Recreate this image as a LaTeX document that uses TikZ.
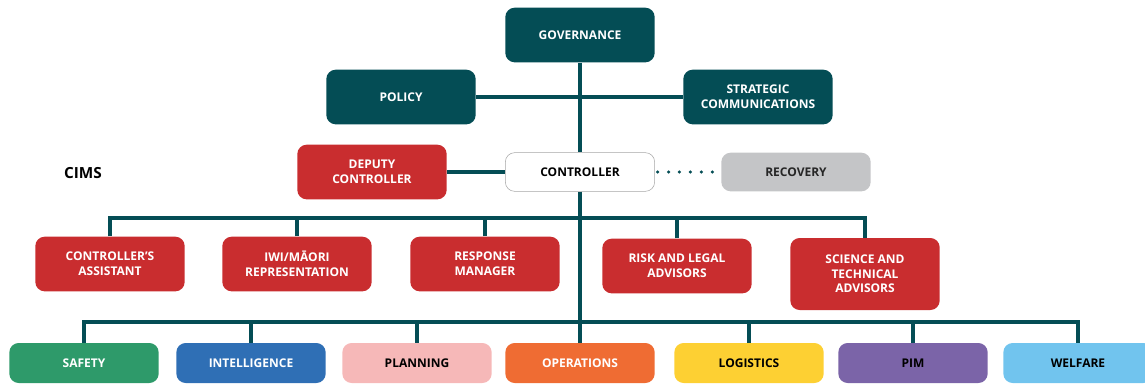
\documentclass[tikz,border=0pt]{standalone}
\usepackage{fontspec}
\setmainfont{Open Sans}
\usepackage{xcolor}
\usetikzlibrary{positioning}
\definecolor{cimsteal}{HTML}{044D55}
\definecolor{cimsred}{HTML}{C92D2F}
\definecolor{cimsgrey}{HTML}{C4C5C7}
\definecolor{safetygreen}{HTML}{2E9A6A}
\definecolor{intelblue}{HTML}{2F6FB5}
\definecolor{planpink}{HTML}{F6B8B8}
\definecolor{opsorange}{HTML}{EF6C33}
\definecolor{logyellow}{HTML}{FDD033}
\definecolor{pimpurple}{HTML}{7B64A8}
\definecolor{welfareblue}{HTML}{71C4EE}

\begin{document}
\begin{tikzpicture}[x=0.75pt, y=-0.75pt,
	every node/.style={rounded corners=7pt, inner sep=0pt, align=center, text=white,
		font=\fontsize{9}{11}\selectfont\bfseries, minimum width=112pt, minimum height=41pt},
	lead/.style={fill=cimsteal},
	unit/.style={fill=cimsred},
	func/.style={minimum height=30pt, text=black},
	link/.style={draw=cimsteal, line width=3.6pt}]
	\useasboundingbox (0,0) rectangle (1145,383);

		\node[lead] at (580,35) (gov) {GOVERNANCE};
		\node[lead] at (401,97) (policy) {POLICY};
		\node[lead] at (758,97) (strat) {STRATEGIC\\COMMUNICATIONS};

		\node[text=black, minimum width=0pt, minimum height=0pt, font=\fontsize{11.5}{13}\selectfont\bfseries] at (83,173) (cims) {CIMS};
		\node[unit] at (372,172) (deputy) {DEPUTY\\CONTROLLER};
		\node[draw=gray!70, fill=white, text=black, minimum height=29pt] at (580,172) (ctrl) {CONTROLLER};
		\node[fill=cimsgrey, text=black!85, minimum height=29pt] at (796,172) (recovery) {RECOVERY};

		\node[unit] at (110,264) (assist) {CONTROLLER'S\\ASSISTANT};
		\node[unit] at (297,264) (iwi) {IWI/MĀORI\\REPRESENTATION};
		\node[unit] at (485,264) (response) {RESPONSE\\MANAGER};
		\node[unit] at (677,266) (risk) {RISK AND LEGAL\\ADVISORS};
		\node[unit, minimum height=54pt] at (865,274) (science) {SCIENCE AND\\TECHNICAL\\ADVISORS};

		\node[func, fill=safetygreen, text=white] at (84,363) (safety) {SAFETY};
		\node[func, fill=intelblue, text=white] at (251,363) (intel) {INTELLIGENCE};
		\node[func, fill=planpink] at (417,363) (planning) {PLANNING};
		\node[func, fill=opsorange, text=white] at (580,363) (ops) {OPERATIONS};
		\node[func, fill=logyellow] at (749,363) (logistics) {LOGISTICS};
		\node[func, fill=pimpurple] at (913,363) (pim) {PIM};
		\node[func, fill=welfareblue] at (1078,363) (welfare) {WELFARE};

		\coordinate (bus1) at (580,218);
		\coordinate (bus2) at (580,322);

		\path[link] (gov) edge (ctrl);
		\path[link] (policy) edge (strat);
		\path[link] (deputy) edge (ctrl);
		\path[draw=cimsteal, line width=2.6pt, line cap=round, dash pattern=on 0pt off 8.2pt]
			([xshift=2pt]ctrl.east) -- ([xshift=-2pt]recovery.west);
		\path[link] (ctrl) edge (ops);

		\draw[link] (assist) |- (bus1) -| (science);
		\path[link] (iwi) edge (iwi |- bus1);
		\path[link] (response) edge (response |- bus1);
		\path[link] (risk) edge (risk |- bus1);

		\draw[link] (safety) |- (bus2) -| (welfare);
		\path[link] (intel) edge (intel |- bus2);
		\path[link] (planning) edge (planning |- bus2);
		\path[link] (logistics) edge (logistics |- bus2);
		\path[link] (pim) edge (pim |- bus2);
	\end{tikzpicture}
\end{document}
